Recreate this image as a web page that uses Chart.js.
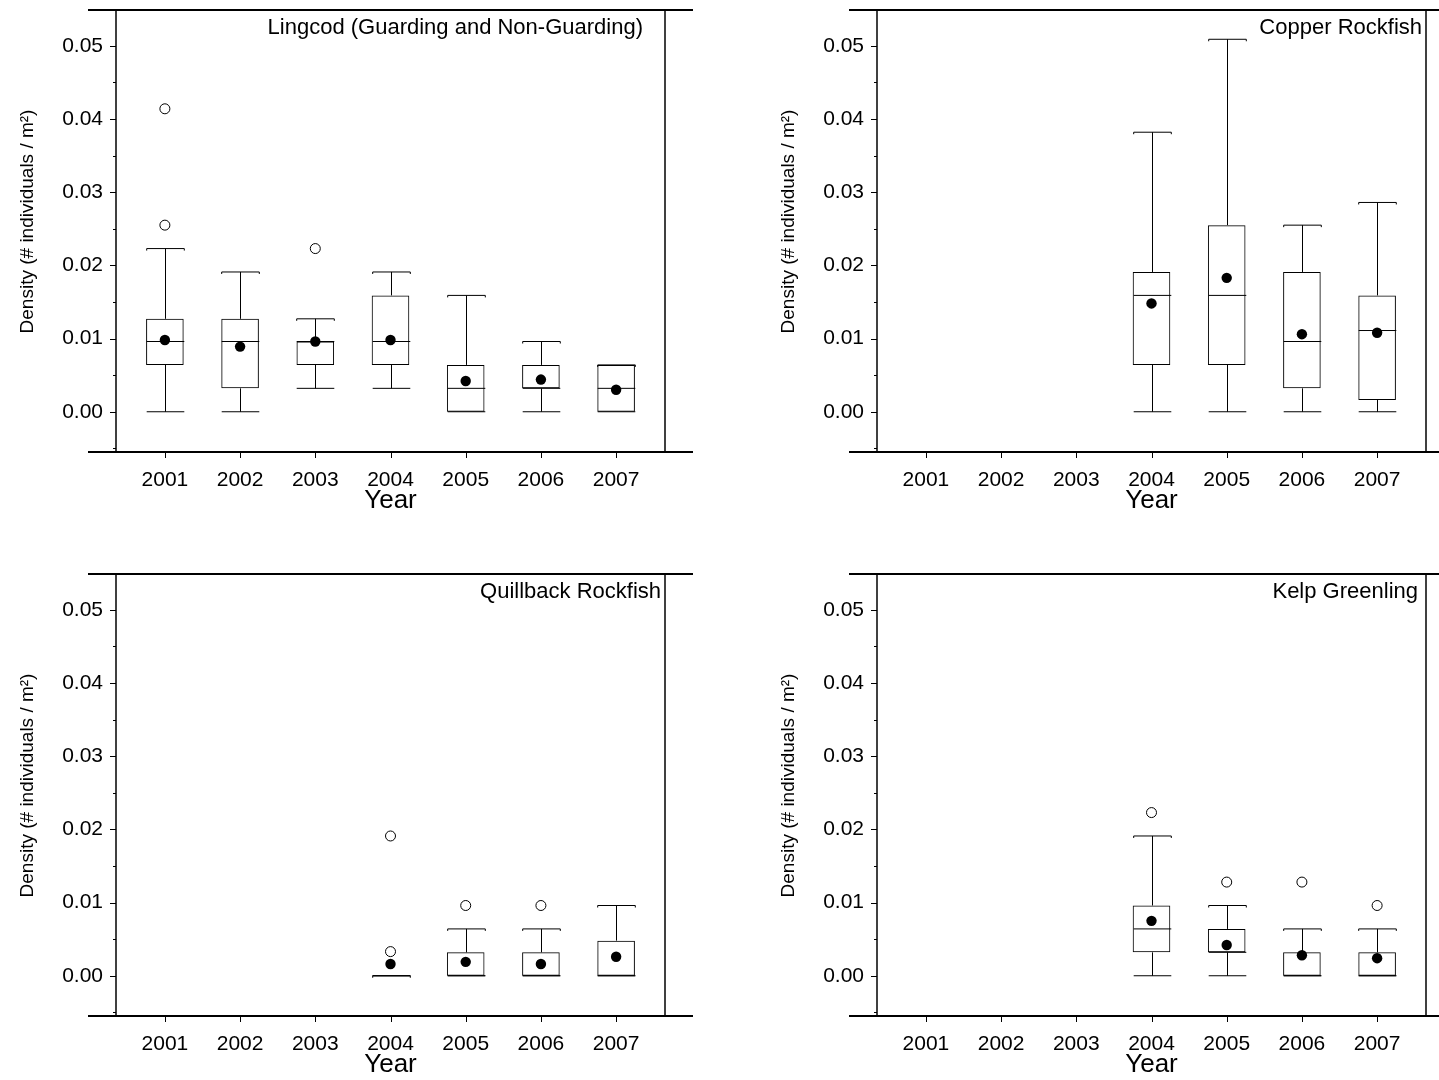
<!DOCTYPE html>
<html>
<head>
<meta charset="utf-8">
<script src="https://cdn.jsdelivr.net/npm/chart.js@4.4.1/dist/chart.umd.min.js"></script>
<style>
  html, body { margin: 0; padding: 0; background: #fff; overflow: hidden; }
  .panel { position: absolute; }
</style>
</head>
<body>
<div class="panel" style="left:0;top:0"><canvas id="c0" width="700" height="516"></canvas></div>
<div class="panel" style="left:761px;top:0"><canvas id="c1" width="678" height="516"></canvas></div>
<div class="panel" style="left:0;top:564px"><canvas id="c2" width="700" height="516"></canvas></div>
<div class="panel" style="left:761px;top:564px"><canvas id="c3" width="678" height="516"></canvas></div>
<script>
const years = [2001, 2002, 2003, 2004, 2005, 2006, 2007];
const yMajor = [0, 0.01, 0.02, 0.03, 0.04, 0.05];
const yMinor = [-0.005, 0.005, 0.015, 0.025, 0.035, 0.045];

// Lingcod (guarding and non-guarding)
const lingLow  = [0, 0, 0.0032, 0.0032, 0, 0, 0];
const lingQ1   = [0.0064, 0.0032, 0.0064, 0.0064, 0, 0.0032, 0];
const lingMed  = [0.0096, 0.0096, 0.0096, 0.0096, 0.0032, 0.0032, 0.0032];
const lingQ3   = [0.0127, 0.0127, 0.0096, 0.0159, 0.0064, 0.0064, 0.0064];
const lingHigh = [0.0223, 0.0191, 0.0127, 0.0191, 0.0159, 0.0096, 0.0064];
const lingMean = [0.0098, 0.0089, 0.0096, 0.0098, 0.0042, 0.0044, 0.0030];
const lingOutX = [2001, 2001, 2003];
const lingOutY = [0.0414, 0.0255, 0.0223];

// Copper rockfish
const copLow  = [null, null, null, 0, 0, 0, 0];
const copQ1   = [null, null, null, 0.0064, 0.0064, 0.0032, 0.0016];
const copMed  = [null, null, null, 0.0159, 0.0159, 0.0096, 0.0111];
const copQ3   = [null, null, null, 0.0191, 0.0255, 0.0191, 0.0159];
const copHigh = [null, null, null, 0.0382, 0.0509, 0.0255, 0.0286];
const copMean = [null, null, null, 0.0148, 0.0183, 0.0106, 0.0108];
const copOutX = [];
const copOutY = [];

// Quillback rockfish
const quilLow  = [null, null, null, 0, 0, 0, 0];
const quilQ1   = [null, null, null, 0, 0, 0, 0];
const quilMed  = [null, null, null, 0, 0, 0, 0];
const quilQ3   = [null, null, null, 0, 0.0032, 0.0032, 0.0048];
const quilHigh = [null, null, null, 0, 0.0064, 0.0064, 0.0096];
const quilMean = [null, null, null, 0.0016, 0.0019, 0.0016, 0.0026];
const quilOutX = [2004, 2004, 2005, 2006];
const quilOutY = [0.0191, 0.0033, 0.0096, 0.0096];

// Kelp greenling
const kelpLow  = [null, null, null, 0, 0, 0, 0];
const kelpQ1   = [null, null, null, 0.0032, 0.0032, 0, 0];
const kelpMed  = [null, null, null, 0.0064, 0.0032, 0, 0];
const kelpQ3   = [null, null, null, 0.0096, 0.0064, 0.0032, 0.0032];
const kelpHigh = [null, null, null, 0.0191, 0.0096, 0.0064, 0.0064];
const kelpMean = [null, null, null, 0.0075, 0.0042, 0.0028, 0.0024];
const kelpOutX = [2004, 2005, 2006, 2007];
const kelpOutY = [0.0223, 0.0128, 0.0128, 0.0096];

const FONT = "'Liberation Sans', Arial, Helvetica, sans-serif";
const PLOT_RIGHT = 665;

const panels = [
  { id: 'c0', title: 'Lingcod (Guarding and Non-Guarding)', gap: 22,
    low: lingLow, q1: lingQ1, med: lingMed, q3: lingQ3, high: lingHigh, mean: lingMean, outX: lingOutX, outY: lingOutY },
  { id: 'c1', title: 'Copper Rockfish', gap: 4,
    low: copLow, q1: copQ1, med: copMed, q3: copQ3, high: copHigh, mean: copMean, outX: copOutX, outY: copOutY },
  { id: 'c2', title: 'Quillback Rockfish', gap: 4,
    low: quilLow, q1: quilQ1, med: quilMed, q3: quilQ3, high: quilHigh, mean: quilMean, outX: quilOutX, outY: quilOutY },
  { id: 'c3', title: 'Kelp Greenling', gap: 8,
    low: kelpLow, q1: kelpQ1, med: kelpMed, q3: kelpQ3, high: kelpHigh, mean: kelpMean, outX: kelpOutX, outY: kelpOutY }
];

function seg(ctx, x1, y1, x2, y2) {
  ctx.beginPath();
  ctx.moveTo(x1, y1);
  ctx.lineTo(x2, y2);
  ctx.stroke();
}

// whiskers, caps and medians under the boxes; frame, ticks and label on top
function boxPlugin(p) {
  return {
    id: 'boxPlot',
    beforeDatasetsDraw(chart) {
      const { ctx, scales: { x, y } } = chart;
      ctx.save();
      ctx.strokeStyle = '#000';
      ctx.lineWidth = 1;
      years.forEach((yr, i) => {
        if (p.q1[i] == null) return;
        const cx = Math.round(x.getPixelForValue(yr)) + 0.5;
        const half = x.getPixelForValue(yr + 0.25) - x.getPixelForValue(yr);
        const yLo = y.getPixelForValue(p.low[i]);
        const yQ1 = y.getPixelForValue(p.q1[i]);
        const yMed = y.getPixelForValue(p.med[i]);
        const yQ3 = y.getPixelForValue(p.q3[i]);
        const yHi = y.getPixelForValue(p.high[i]);
        if (yHi < yQ3) seg(ctx, cx, yQ3, cx, yHi);
        if (yLo > yQ1) seg(ctx, cx, yQ1, cx, yLo);
        seg(ctx, cx - half, yHi, cx + half, yHi);
        seg(ctx, cx - half, yHi, cx - half, yHi + 2);
        seg(ctx, cx + half, yHi, cx + half, yHi + 2);
        seg(ctx, cx - half, yLo, cx + half, yLo);
        seg(ctx, cx - half, yMed, cx + half, yMed);
      });
      ctx.restore();
    },
    afterDraw(chart) {
      const { ctx, chartArea: a, scales: { x, y } } = chart;
      ctx.save();
      ctx.strokeStyle = '#000';
      ctx.lineWidth = 2;
      seg(ctx, a.left - 28, a.top, a.right + 28, a.top);
      seg(ctx, a.left - 28, a.bottom, a.right + 28, a.bottom);
      ctx.lineWidth = 1.5;
      seg(ctx, a.left, a.top, a.left, a.bottom);
      seg(ctx, a.right, a.top, a.right, a.bottom);
      ctx.lineWidth = 1;
      yMajor.forEach(v => {
        const py = Math.round(y.getPixelForValue(v)) + 0.5;
        seg(ctx, a.left - 6, py, a.left, py);
      });
      yMinor.forEach(v => {
        const py = Math.round(y.getPixelForValue(v)) + 0.5;
        seg(ctx, a.left - 3, py, a.left, py);
      });
      years.forEach(v => {
        const px = Math.round(x.getPixelForValue(v)) + 0.5;
        seg(ctx, px, a.bottom, px, a.bottom + 6);
      });
      ctx.fillStyle = '#000';
      ctx.font = '22px ' + FONT;
      ctx.textAlign = 'right';
      ctx.textBaseline = 'alphabetic';
      ctx.fillText(p.title, a.right - p.gap, a.top + 24);
      ctx.restore();
    }
  };
}

panels.forEach(p => {
  const canvas = document.getElementById(p.id);
  const W = canvas.width;
  const boxData = [], meanData = [];
  years.forEach((yr, i) => {
    if (p.q1[i] == null) return;
    boxData.push({ x: yr, y: [p.q1[i], p.q3[i]] });
    meanData.push({ x: yr, y: p.mean[i] });
  });
  const outData = p.outX.map((yr, i) => ({ x: yr, y: p.outY[i] }));

  new Chart(canvas, {
    type: 'bar',
    data: {
      datasets: [
        { type: 'scatter', data: meanData, order: 0, pointRadius: 5.2,
          backgroundColor: '#000', borderColor: '#000', borderWidth: 0 },
        { type: 'scatter', data: outData, order: 1, pointRadius: 5,
          backgroundColor: '#fff', borderColor: '#000', borderWidth: 1 },
        { type: 'bar', data: boxData, order: 2, barPercentage: 0.5, categoryPercentage: 1,
          backgroundColor: 'rgba(0,0,0,0)', borderColor: '#000', borderWidth: 1, borderSkipped: false }
      ]
    },
    options: {
      responsive: false,
      animation: false,
      events: [],
      layout: { padding: { left: 0, top: 10, right: W - PLOT_RIGHT, bottom: 0 } },
      plugins: { legend: { display: false }, tooltip: { enabled: false } },
      scales: {
        x: {
          type: 'linear', min: 2000.35, max: 2007.65, offset: false,
          afterBuildTicks: s => { s.ticks = years.map(v => ({ value: v })); },
          afterFit: s => { s.height = 64; s.paddingLeft = 0; s.paddingRight = 0; },
          grid: { display: false, drawTicks: false },
          border: { display: false },
          ticks: { color: '#000', font: { family: FONT, size: 21 }, padding: 16,
                   autoSkip: false, maxRotation: 0, callback: v => String(v) },
          title: { display: true, text: 'Year', color: '#000',
                   font: { family: FONT, size: 26 }, padding: { top: 0, bottom: 0 } }
        },
        y: {
          type: 'linear', min: -0.0055, max: 0.0549,
          afterBuildTicks: s => { s.ticks = yMajor.map(v => ({ value: v })); },
          afterFit: s => { s.width = 116; s.paddingTop = 0; s.paddingBottom = 0; },
          grid: { display: false, drawTicks: false },
          border: { display: false },
          ticks: { color: '#000', font: { family: FONT, size: 21 }, padding: 13,
                   callback: v => v.toFixed(2) },
          title: { display: true, text: '\u2002\u2002Density (# individuals / m²)', color: '#000',
                   font: { family: FONT, size: 19 }, padding: { top: 16, bottom: 0 } }
        }
      }
    },
    plugins: [boxPlugin(p)]
  });
});
</script>
</body>
</html>
